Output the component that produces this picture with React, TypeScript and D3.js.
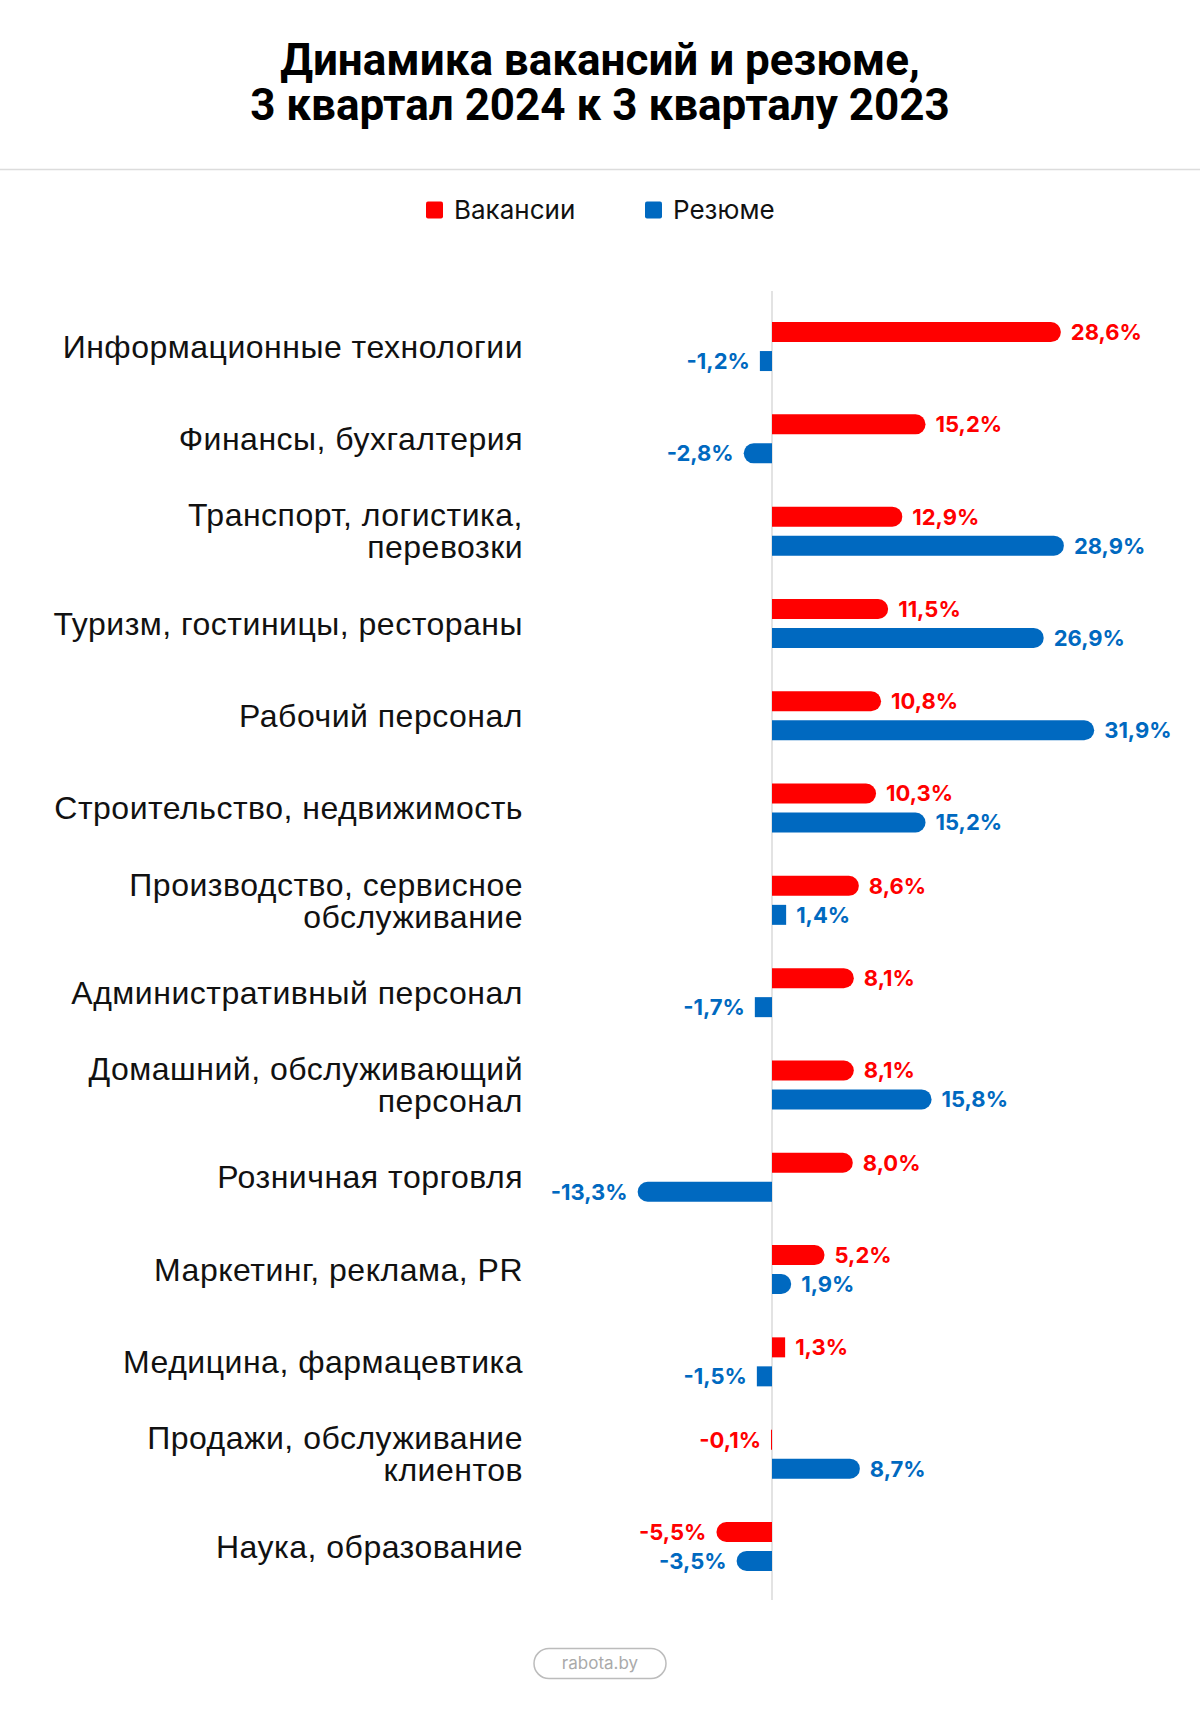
import React, { useEffect, useRef } from "react";
import * as d3 from "d3";

// данные: динамика вакансий и резюме, 3 кв. 2024 к 3 кв. 2023
const categories = [
  "Информационные технологии",
  "Финансы, бухгалтерия",
  "Транспорт, логистика,\nперевозки",
  "Туризм, гостиницы, рестораны",
  "Рабочий персонал",
  "Строительство, недвижимость",
  "Производство, сервисное\nобслуживание",
  "Административный персонал",
  "Домашний, обслуживающий\nперсонал",
  "Розничная торговля",
  "Маркетинг, реклама, PR",
  "Медицина, фармацевтика",
  "Продажи, обслуживание\nклиентов",
  "Наука, образование",
];
const vacancies = [28.6, 15.2, 12.9, 11.5, 10.8, 10.3, 8.6, 8.1, 8.1, 8.0, 5.2, 1.3, -0.1, -5.5];
const resumes = [-1.2, -2.8, 28.9, 26.9, 31.9, 15.2, 1.4, -1.7, 15.8, -13.3, 1.9, -1.5, 8.7, -3.5];
const seriesNames = ["Вакансии", "Резюме"];
const colors = ["#ff0000", "#0069c0"];

const App: React.FC = () => {
  const svgRef = useRef<SVGSVGElement | null>(null);

  useEffect(() => {
    document.body.style.margin = "0";
    const width = 1200;
    const height = 1735;
    const zeroX = 772;
    const pxPerUnit = 10.1;

    const svg = d3.select(svgRef.current);
    svg.selectAll("*").remove();
    svg.attr("width", width).attr("height", height).attr("viewBox", [0, 0, width, height]);

    svg.append("rect").attr("width", width).attr("height", height).attr("fill", "#fff");

    // заголовок
    const title = svg
      .append("text")
      .attr("text-anchor", "middle")
      .attr("font-family", "Roboto, 'Liberation Sans', sans-serif")
      .attr("font-weight", 700)
      .attr("font-size", 44)
      .attr("fill", "#000");
    title.append("tspan").attr("x", width / 2).attr("y", 75).text("Динамика вакансий и резюме,");
    title.append("tspan").attr("x", width / 2).attr("y", 120).text("3 квартал 2024 к 3 кварталу 2023");

    svg
      .append("line")
      .attr("x1", 0)
      .attr("x2", width)
      .attr("y1", 169.5)
      .attr("y2", 169.5)
      .attr("stroke", "#dcdcdc")
      .attr("stroke-width", 1.5);

    // легенда
    const legendX = [426, 645];
    seriesNames.forEach((name, i) => {
      const g = svg.append("g").attr("transform", `translate(${legendX[i]},210)`);
      g.append("rect")
        .attr("x", 0)
        .attr("y", -8.5)
        .attr("width", 17)
        .attr("height", 17)
        .attr("rx", 2)
        .attr("fill", colors[i]);
      g.append("text")
        .attr("x", 28)
        .attr("dy", "0.35em")
        .attr("font-family", "Inter, 'Noto Sans', sans-serif")
        .attr("font-size", 26)
        .attr("fill", "#111")
        .text(name);
    });

    const x = d3
      .scaleLinear()
      .domain([-15, 32])
      .range([zeroX - 15 * pxPerUnit, zeroX + 32 * pxPerUnit]);

    const y = d3
      .scaleBand()
      .domain(categories)
      .range([300.4, 300.4 + 92.3 * categories.length])
      .padding(0);

    const yInner = d3
      .scaleBand()
      .domain(seriesNames)
      .range([y.bandwidth() / 2 - 24.5, y.bandwidth() / 2 + 24.5])
      .paddingInner(0.31);

    // нулевая линия
    svg
      .append("line")
      .attr("x1", x(0))
      .attr("x2", x(0))
      .attr("y1", 291)
      .attr("y2", 1600)
      .attr("stroke", "#d0d0d0")
      .attr("stroke-width", 1.2);

    const fmt = (v: number) => d3.format(".1f")(v).replace(".", ",").replace("−", "-") + "%";

    // бар с закруглённым внешним концом
    function barPath(v: number, top: number, h: number) {
      const x0 = x(0);
      const x1 = x(v);
      const len = Math.abs(x1 - x0);
      const r = len >= 18 ? h / 2 : 0;
      const dir = v >= 0 ? 1 : -1;
      const p = d3.path();
      p.moveTo(x0, top);
      p.lineTo(x1 - dir * r, top);
      if (r > 0) {
        p.arc(x1 - dir * r, top + r, r, -Math.PI / 2, Math.PI / 2, dir < 0);
      } else {
        p.lineTo(x1, top);
        p.lineTo(x1, top + h);
      }
      p.lineTo(x0, top + h);
      p.closePath();
      return p.toString();
    }

    const rows = categories.map((c, i) => ({ c, vals: [vacancies[i], resumes[i]] }));

    const groups = svg
      .selectAll(".row")
      .data(rows)
      .enter()
      .append("g")
      .attr("class", "row")
      .attr("transform", (d) => `translate(0,${y(d.c)})`);

    // подписи категорий
    groups.each(function (d) {
      const lines = d.c.split("\n");
      const t = d3
        .select(this)
        .append("text")
        .attr("text-anchor", "end")
        .attr("font-family", "'Liberation Sans', Arial, sans-serif")
        .attr("font-size", 32)
        .attr("letter-spacing", 0.5)
        .attr("fill", "#111");
      const cy = y.bandwidth() / 2;
      lines.forEach((line, k) => {
        t.append("tspan")
          .attr("x", 523)
          .attr("y", cy + (k - (lines.length - 1) / 2) * 32)
          .attr("dy", "0.35em")
          .text(line);
      });
    });

    seriesNames.forEach((s, si) => {
      const h = yInner.bandwidth();
      groups
        .append("path")
        .attr("d", (d) => barPath(d.vals[si], yInner(s) as number, h))
        .attr("fill", colors[si]);

      groups
        .append("text")
        .attr("x", (d) => (d.vals[si] >= 0 ? x(d.vals[si]) + 10 : x(d.vals[si]) - 10))
        .attr("y", (yInner(s) as number) + h / 2)
        .attr("dy", "0.36em")
        .attr("text-anchor", (d) => (d.vals[si] >= 0 ? "start" : "end"))
        .attr("font-family", "Inter, 'Open Sans', sans-serif")
        .attr("font-weight", 700)
        .attr("font-size", 22)
        .attr("fill", colors[si])
        .text((d) => fmt(d.vals[si]));
    });

    // подпись источника
    const foot = svg.append("g").attr("transform", `translate(${width / 2},1663.5)`);
    foot
      .append("rect")
      .attr("x", -66)
      .attr("y", -15)
      .attr("width", 132)
      .attr("height", 30)
      .attr("rx", 15)
      .attr("fill", "none")
      .attr("stroke", "#bcbcbc")
      .attr("stroke-width", 1.5);
    foot
      .append("text")
      .attr("text-anchor", "middle")
      .attr("dy", "0.35em")
      .attr("font-family", "Inter, 'Noto Sans', sans-serif")
      .attr("font-size", 17)
      .attr("fill", "#aaa")
      .text("rabota.by");
  }, []);

  return <svg ref={svgRef}></svg>;
};

export default App;
